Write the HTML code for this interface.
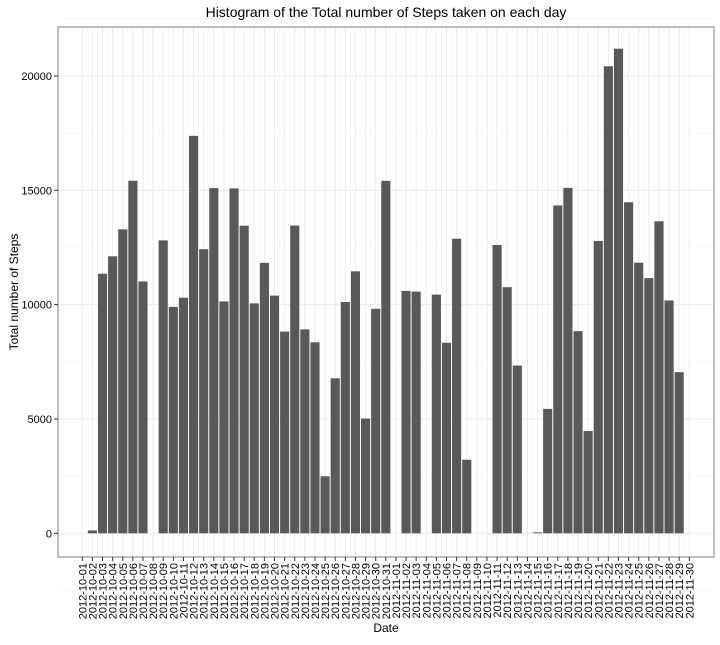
<!DOCTYPE html>
<html><head><meta charset="utf-8"><style>
body{margin:0;background:#fff}
svg text{font-family:"Liberation Sans",sans-serif}
</style></head><body>
<svg id="c" width="720" height="640"></svg>
<script>
const dates=["2012-10-01","2012-10-02","2012-10-03","2012-10-04","2012-10-05","2012-10-06","2012-10-07","2012-10-08","2012-10-09","2012-10-10","2012-10-11","2012-10-12","2012-10-13","2012-10-14","2012-10-15","2012-10-16","2012-10-17","2012-10-18","2012-10-19","2012-10-20","2012-10-21","2012-10-22","2012-10-23","2012-10-24","2012-10-25","2012-10-26","2012-10-27","2012-10-28","2012-10-29","2012-10-30","2012-10-31","2012-11-01","2012-11-02","2012-11-03","2012-11-04","2012-11-05","2012-11-06","2012-11-07","2012-11-08","2012-11-09","2012-11-10","2012-11-11","2012-11-12","2012-11-13","2012-11-14","2012-11-15","2012-11-16","2012-11-17","2012-11-18","2012-11-19","2012-11-20","2012-11-21","2012-11-22","2012-11-23","2012-11-24","2012-11-25","2012-11-26","2012-11-27","2012-11-28","2012-11-29","2012-11-30"];
const steps=[0,126,11352,12116,13294,15420,11015,0,12811,9900,10304,17382,12426,15098,10139,15084,13452,10056,11829,10395,8821,13460,8918,8355,2492,6778,10119,11458,5018,9819,15414,0,10600,10571,0,10439,8334,12883,3219,0,0,12608,10765,7336,0,41,5441,14339,15110,8841,4472,12787,20427,21194,14478,11834,11162,13646,10183,7047,0];
const yTicks=[0,5000,10000,15000,20000];
const svg=document.getElementById('c');const NS='http://www.w3.org/2000/svg';
function el(t,a,p){const e=document.createElementNS(NS,t);for(const k in a)e.setAttribute(k,a[k]);(p||svg).appendChild(e);return e;}
const L=58,R=714,T=27,B=557;
const x0=82.3,dx=(689.3-82.3)/60;
const xs=i=>x0+i*dx;
const y0=533.3,ys=v=>y0-v*(533.3-76)/20000;
const grid=el('g',{});


for(let i=0;i<dates.length;i++){
  el('line',{x1:xs(i),x2:xs(i),y1:T,y2:B,stroke:'#ebebeb','stroke-width':1},grid);
  if(i<dates.length-1) el('line',{x1:xs(i+0.5),x2:xs(i+0.5),y1:T,y2:B,stroke:'#f5f5f5','stroke-width':0.6},grid);
}
for(let j=0;j<yTicks.length;j++){
  el('line',{x1:L,x2:R,y1:ys(yTicks[j]),y2:ys(yTicks[j]),stroke:'#ebebeb','stroke-width':1},grid);
  el('line',{x1:L,x2:R,y1:ys(yTicks[j]+2500),y2:ys(yTicks[j]+2500),stroke:'#f5f5f5','stroke-width':0.6},grid);
}
el('line',{x1:L,x2:R,y1:ys(-2500),y2:ys(-2500),stroke:'#f5f5f5','stroke-width':0.6},grid);
for(let i=0;i<dates.length;i++){
  if(!steps[i]) continue;
  const b=el('rect',{x:xs(i)-dx*0.45,width:dx*0.9,y:ys(steps[i]),height:y0-ys(steps[i]),fill:'#595959'});
  
  
}
const fr=el('rect',{x:L,y:T,width:R-L,height:B-T,fill:'none',stroke:'#7f7f7f','stroke-width':1});


for(let j=0;j<yTicks.length;j++){
  const y=ys(yTicks[j]);
  el('line',{x1:L-4,x2:L,y1:y,y2:y,stroke:'#333'});
  const t=el('text',{x:L-6,y:y+4,'text-anchor':'end','font-size':'11',fill:'#000'});
  t.textContent=yTicks[j];
  
  
}
for(let i=0;i<dates.length;i++){
  const x=xs(i);
  el('line',{x1:x,x2:x,y1:B,y2:B+4,stroke:'#333'});
  const t=el('text',{x:0,y:0,'text-anchor':'end','font-size':'11',fill:'#000',transform:`translate(${x+4},${B+6}) rotate(-90)`});
  t.textContent=dates[i];
  
  
}
const ti=el('text',{x:(L+R)/2,y:17,'text-anchor':'middle','font-size':'14',fill:'#000'});
ti.textContent='Histogram of the Total number of Steps taken on each day';


const xt=el('text',{x:(L+R)/2,y:632,'text-anchor':'middle','font-size':'12',fill:'#000'});
xt.textContent='Date';


const yt=el('text',{x:0,y:0,'text-anchor':'middle','font-size':'12',fill:'#000',transform:`translate(18,${(T+B)/2}) rotate(-90)`});
yt.textContent='Total number of Steps';


</script>
</body></html>
